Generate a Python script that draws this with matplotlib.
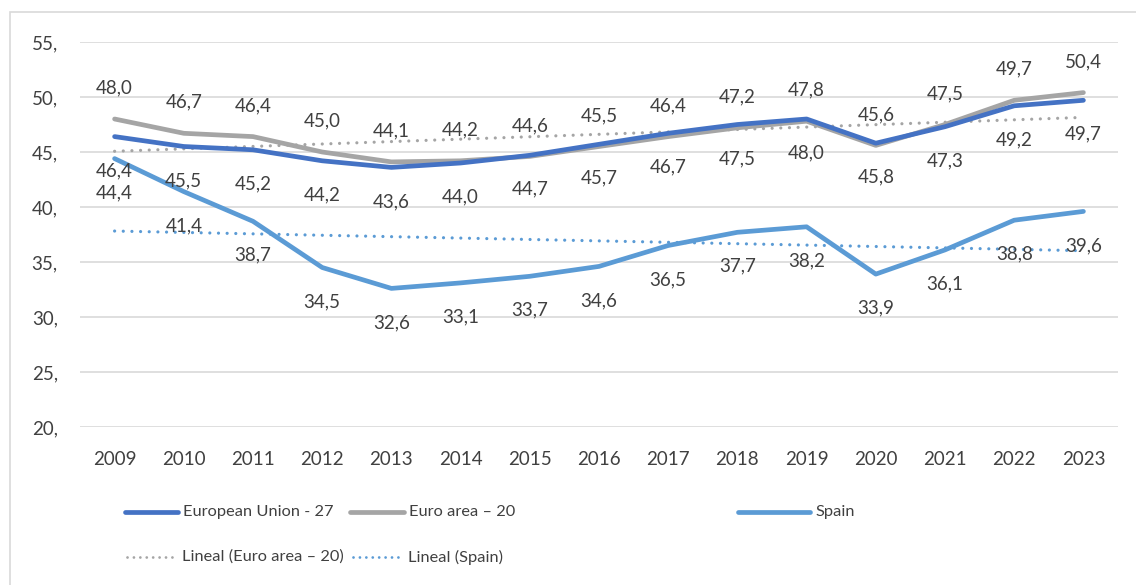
import numpy as np
import matplotlib
matplotlib.use("Agg")
import matplotlib.pyplot as plt
from matplotlib.lines import Line2D
from matplotlib.patches import Rectangle

years = ["2009", "2010", "2011", "2012", "2013", "2014", "2015", "2016",
         "2017", "2018", "2019", "2020", "2021", "2022", "2023"]
eu27 = [46.4, 45.5, 45.2, 44.2, 43.6, 44.0, 44.7, 45.7, 46.7, 47.5, 48.0, 45.8, 47.3, 49.2, 49.7]
euro20 = [48.0, 46.7, 46.4, 45.0, 44.1, 44.2, 44.6, 45.5, 46.4, 47.2, 47.8, 45.6, 47.5, 49.7, 50.4]
spain = [44.4, 41.4, 38.7, 34.5, 32.6, 33.1, 33.7, 34.6, 36.5, 37.7, 38.2, 33.9, 36.1, 38.8, 39.6]
yticks = [20, 25, 30, 35, 40, 45, 50, 55]

C_EU = "#4472C4"
C_EA = "#A5A5A5"
C_ES = "#5B9BD5"
TXT = "#404040"
FONT = "Lato"
FS = 13.5
FS_LEG = 11.8
DOT = (0, (0.01, 2.7))
DOT_LEG = (0, (0.01, 2.3))

W, H = 1136, 585
fig = plt.figure(figsize=(W / 100, H / 100), dpi=100)
ax = fig.add_axes([80 / W, 1 - 427 / H, (1118 - 80) / W, (427 - 42) / H])

x = np.arange(len(years))
ax.plot(x, eu27, color=C_EU, lw=3.4, solid_capstyle="round", zorder=4)
ax.plot(x, euro20, color=C_EA, lw=3.4, solid_capstyle="round", zorder=3)
ax.plot(x, spain, color=C_ES, lw=3.4, solid_capstyle="round", zorder=3)

# linear trend lines
pe = np.polyfit(x, euro20, 1)
ps = np.polyfit(x, spain, 1)
ax.plot(x, np.polyval(pe, x), color=C_EA, lw=2.3, ls=DOT,
        dash_capstyle="round", zorder=2)
ax.plot(x, np.polyval(ps, x), color=C_ES, lw=2.3, ls=DOT,
        dash_capstyle="round", zorder=2)

def fmt(v):
    return f"{v:.1f}".replace(".", ",")

for i in range(len(years)):
    ax.annotate(fmt(euro20[i]), (x[i], euro20[i]), xytext=(0, 31),
                textcoords="offset pixels", ha="center", va="center",
                fontsize=FS, color=TXT, family=FONT, zorder=6)
    ax.annotate(fmt(eu27[i]), (x[i], eu27[i]), xytext=(0, -34),
                textcoords="offset pixels", ha="center", va="center",
                fontsize=FS, color=TXT, family=FONT, zorder=6)
    ax.annotate(fmt(spain[i]), (x[i], spain[i]), xytext=(0, -34),
                textcoords="offset pixels", ha="center", va="center",
                fontsize=FS, color=TXT, family=FONT, zorder=6)

ax.set_xlim(-0.5, len(years) - 0.5)
ax.set_ylim(20, 55)
ax.set_yticks(yticks)
ax.set_yticklabels([f"{t}," for t in yticks])
ax.set_xticks(x)
ax.set_xticklabels(years)
ax.grid(axis="y", color="#D9D9D9", lw=1.2)
ax.set_axisbelow(True)
for s in ax.spines.values():
    s.set_visible(False)
ax.tick_params(length=0, labelsize=FS, labelcolor=TXT)
ax.tick_params(axis="x", pad=17)
ax.tick_params(axis="y", pad=16)
for lab in ax.get_xticklabels() + ax.get_yticklabels():
    lab.set_family(FONT)

# chart border
fig.add_artist(Rectangle((10 / W, -0.01), 1.2, 1 - 12 / H + 0.01,
                         transform=fig.transFigure, fill=False,
                         ec="#D9D9D9", lw=1.2))

# legend (manual, row-major like Excel)
def fx(px):
    return px / W

def fy(py):
    return 1 - py / H

entries = [
    (125, 178, 512, C_EU, 3.4, "-", "European Union - 27"),
    (350, 404, 512, C_EA, 3.4, "-", "Euro area \u2013 20"),
    (738, 810, 512, C_ES, 3.4, "-", "Spain"),
    (127, 177, 557, C_EA, 2.0, DOT_LEG, "Lineal (Euro area \u2013 20)"),
    (353, 403, 557, C_ES, 2.0, DOT_LEG, "Lineal (Spain)"),
]
for x0, x1, yy, c, lw, ls, label in entries:
    ln = Line2D([fx(x0), fx(x1)], [fy(yy), fy(yy)], color=c, lw=lw, ls=ls,
                solid_capstyle="round", dash_capstyle="round",
                transform=fig.transFigure)
    fig.add_artist(ln)
    fig.text(fx(x1 + 5), fy(yy), label, ha="left", va="center",
             fontsize=FS_LEG, color=TXT, family=FONT)

fig.savefig("out.png", dpi=100, facecolor="white")
